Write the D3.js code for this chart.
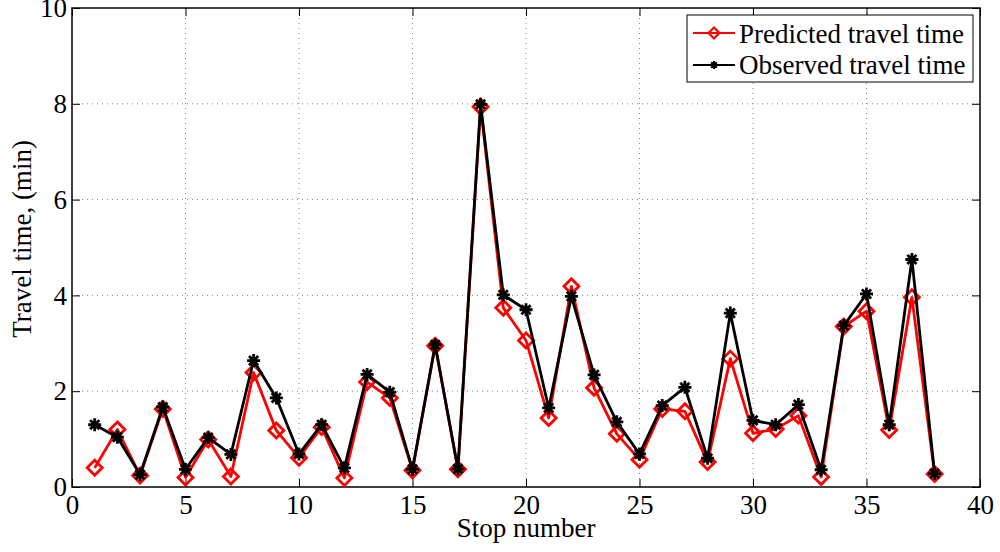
<!DOCTYPE html>
<html>
<head>
<meta charset="utf-8">
<script src="https://cdn.jsdelivr.net/npm/d3@7"></script>
<style>
  body { margin: 0; background: #fff; }
  text { font-family: "Liberation Serif", "Times New Roman", serif; }
</style>
</head>
<body>
<svg width="1000" height="552"></svg>
<script>
var stops = d3.range(1, 39);

var predicted = [0.40, 1.20, 0.24, 1.63, 0.20, 0.99, 0.22, 2.39, 1.18, 0.61,
                 1.25, 0.19, 2.19, 1.86, 0.35, 2.95, 0.37, 7.94, 3.74, 3.06,
                 1.44, 4.19, 2.07, 1.11, 0.57, 1.63, 1.58, 0.52, 2.68, 1.12,
                 1.21, 1.49, 0.21, 3.35, 3.67, 1.19, 3.96, 0.27];

var observed = [1.30, 1.04, 0.26, 1.67, 0.37, 1.03, 0.68, 2.64, 1.86, 0.69,
                1.30, 0.40, 2.35, 1.98, 0.37, 2.97, 0.38, 7.99, 4.01, 3.70,
                1.65, 3.98, 2.34, 1.36, 0.69, 1.70, 2.08, 0.60, 3.63, 1.39,
                1.30, 1.72, 0.36, 3.37, 4.03, 1.30, 4.75, 0.28];

var xTicks = [0, 5, 10, 15, 20, 25, 30, 35, 40];
var yTicks = [0, 2, 4, 6, 8, 10];

var svg = d3.select("svg"),
    pLeft = 72, pRight = 980, pTop = 8, pBottom = 487,
    fs = 27;

var x = d3.scaleLinear().domain([0, 40]).range([pLeft, pRight]);
var y = d3.scaleLinear().domain([0, 10]).range([pBottom, pTop]);

// grid
var grid = svg.append("g").attr("stroke", "#888").attr("stroke-width", 1)
    .attr("stroke-dasharray", "1,4");
grid.selectAll(".gx").data(xTicks.slice(1, -1)).enter().append("line")
    .attr("x1", d => x(d)).attr("x2", d => x(d))
    .attr("y1", pTop).attr("y2", pBottom);
grid.selectAll(".gy").data(yTicks.slice(1, -1)).enter().append("line")
    .attr("x1", pLeft).attr("x2", pRight)
    .attr("y1", d => y(d)).attr("y2", d => y(d));

// axes, MATLAB style: ticks inside on all sides
var tl = 8;
svg.append("g").attr("transform", "translate(0," + pBottom + ")")
    .call(d3.axisBottom(x).tickValues(xTicks).tickSizeInner(-tl).tickSizeOuter(0).tickPadding(8))
    .call(g => g.select(".domain").remove());
svg.append("g").attr("transform", "translate(0," + pTop + ")")
    .call(d3.axisTop(x).tickValues(xTicks).tickSizeInner(-tl).tickSizeOuter(0).tickFormat(""))
    .call(g => g.select(".domain").remove());
svg.append("g").attr("transform", "translate(" + pLeft + ",0)")
    .call(d3.axisLeft(y).tickValues(yTicks).tickSizeInner(-tl).tickSizeOuter(0).tickPadding(5))
    .call(g => g.select(".domain").remove());
svg.append("g").attr("transform", "translate(" + pRight + ",0)")
    .call(d3.axisRight(y).tickValues(yTicks).tickSizeInner(-tl).tickSizeOuter(0).tickFormat(""))
    .call(g => g.select(".domain").remove());

svg.selectAll(".tick line").attr("stroke", "#000").attr("stroke-width", 1);
svg.selectAll(".tick text").attr("font-family", "Liberation Serif")
    .attr("font-size", fs).attr("fill", "#000");

svg.append("rect").attr("x", pLeft).attr("y", pTop)
    .attr("width", pRight - pLeft).attr("height", pBottom - pTop)
    .attr("fill", "none").attr("stroke", "#000").attr("stroke-width", 1.5);

// axis labels
svg.append("text").attr("x", x(20)).attr("y", 537).attr("text-anchor", "middle")
    .attr("font-size", fs).text("Stop number");
svg.append("text").attr("transform", "translate(31,239) rotate(-90)")
    .attr("text-anchor", "middle").attr("font-size", fs).text("Travel time, (min)");

// lines
var line = d3.line().x((d, i) => x(stops[i])).y(d => y(d));

function diamond(g, cx, cy, s, col, w) {
    g.append("path")
        .attr("d", "M" + cx + "," + (cy - s) + "L" + (cx + s) + "," + cy + "L" + cx + "," + (cy + s) + "L" + (cx - s) + "," + cy + "Z")
        .attr("fill", "none").attr("stroke", col).attr("stroke-width", w);
}
function star(g, cx, cy, s, w) {
    var p = "";
    for (var k = 0; k < 4; k++) {
        var a = k * Math.PI / 4;
        p += "M" + (cx - s * Math.cos(a)) + "," + (cy - s * Math.sin(a)) +
             "L" + (cx + s * Math.cos(a)) + "," + (cy + s * Math.sin(a));
    }
    g.append("path").attr("d", p).attr("stroke", "#000").attr("stroke-width", w);
    g.append("circle").attr("cx", cx).attr("cy", cy).attr("r", s * 0.55).attr("fill", "#000");
}

var gp = svg.append("g");
gp.append("path").datum(predicted).attr("d", line)
    .attr("fill", "none").attr("stroke", "#ff0000").attr("stroke-width", 2.8)
    .attr("stroke-linejoin", "round");
predicted.forEach((v, i) => diamond(gp, x(stops[i]), y(v), 7.5, "#ff0000", 2.8));

var go = svg.append("g");
go.append("path").datum(observed).attr("d", line)
    .attr("fill", "none").attr("stroke", "#000").attr("stroke-width", 2.8)
    .attr("stroke-linejoin", "round");
observed.forEach((v, i) => star(go, x(stops[i]), y(v), 6.5, 2.8));

// legend
var lg = svg.append("g");
lg.append("rect").attr("x", 687).attr("y", 15).attr("width", 286).attr("height", 67)
    .attr("fill", "#fff").attr("stroke", "#000").attr("stroke-width", 1);
lg.append("line").attr("x1", 693).attr("x2", 735).attr("y1", 33).attr("y2", 33)
    .attr("stroke", "#ff0000").attr("stroke-width", 2.2);
diamond(lg, 714, 33, 5.5, "#ff0000", 2.2);
lg.append("line").attr("x1", 693).attr("x2", 735).attr("y1", 65).attr("y2", 65)
    .attr("stroke", "#000").attr("stroke-width", 2.2);
star(lg, 714, 65, 4, 2);
lg.append("text").attr("x", 739).attr("y", 43).attr("font-size", fs).text("Predicted travel time");
lg.append("text").attr("x", 739).attr("y", 74).attr("font-size", fs).text("Observed travel time");
</script>
</body>
</html>
